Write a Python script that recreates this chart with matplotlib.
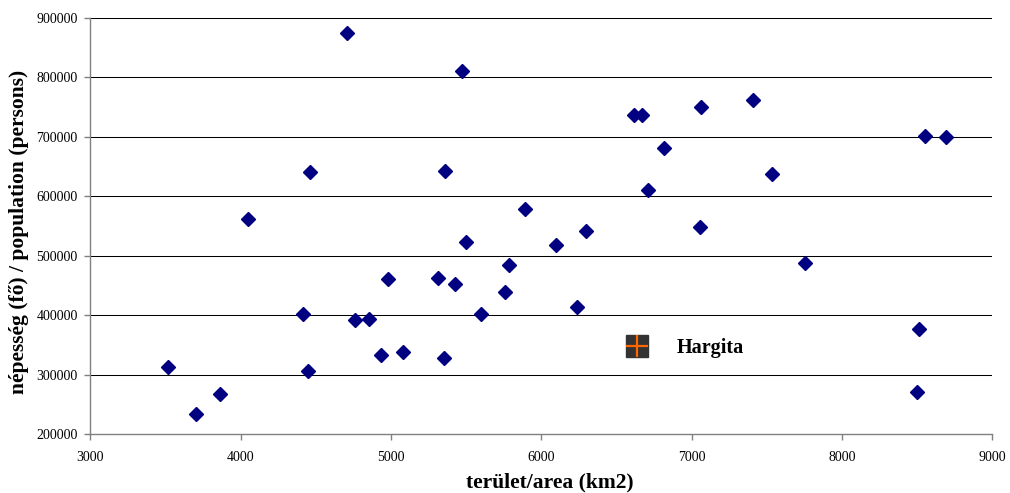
import numpy as np
import matplotlib.pyplot as plt

# area (km2) and population (persons)
area = [3519, 3703, 3862, 4049, 4412, 4450, 4461, 4709, 4760, 4855,
        4931, 4981, 5081, 5316, 5352, 5360, 5427, 5471, 5498, 5601,
        5757, 5786, 5892, 6098, 6236, 6300, 6617, 6670, 6708, 6819,
        7056, 7065, 7411, 7537, 7752, 8497, 8515, 8550, 8690]
population = [313000, 234000, 267000, 562000, 401000, 306500, 641000, 875000, 392000, 393000,
              333000, 461000, 338000, 462000, 328000, 643000, 452000, 811000, 523000, 401000,
              439000, 484000, 578000, 517000, 414000, 542000, 737000, 736000, 610000, 681000,
              548000, 749000, 762000, 638000, 488000, 271000, 377000, 701000, 700000]

hargita_area = 6637
hargita_pop = 348000

x_ticks = [3000, 4000, 5000, 6000, 7000, 8000, 9000]
y_ticks = [200000, 300000, 400000, 500000, 600000, 700000, 800000, 900000]

plt.rcParams['font.family'] = ['Liberation Serif', 'DejaVu Serif']

fig = plt.figure(figsize=(10.1, 4.93), dpi=100)
ax = fig.add_axes([0.0894, 0.1197, 0.8931, 0.8444])

for yv in y_ticks[1:]:
    ax.axhline(yv, color='#000000', lw=0.75, zorder=1)

ax.plot(area, population, linestyle='none', marker='D', markersize=7.2,
        color='#000080', markeredgecolor='#000080', zorder=3)

ax.plot([hargita_area], [hargita_pop], linestyle='none', marker='s', markersize=16,
        color='#333333', zorder=4)
ax.plot([hargita_area], [hargita_pop], linestyle='none', marker='+', markersize=16,
        markeredgewidth=1.6, color='#FF6600', zorder=5)
ax.text(hargita_area + 265, hargita_pop - 3000, 'Hargita', fontsize=14.5, fontweight='bold',
        va='center', ha='left')

ax.set_xlim(3000, 9000)
ax.set_ylim(200000, 900000)
ax.set_xticks(x_ticks)
ax.set_yticks(y_ticks)
ax.set_xticklabels([str(v) for v in x_ticks], fontsize=10)
ax.set_yticklabels([str(v) for v in y_ticks], fontsize=10)
ax.tick_params(axis='both', direction='out', length=4, width=1, color='#808080')
ax.tick_params(axis='x', pad=8)
ax.tick_params(axis='y', pad=5)

for side in ['top', 'right']:
    ax.spines[side].set_visible(False)
for side in ['left', 'bottom']:
    ax.spines[side].set_color('#808080')
    ax.spines[side].set_linewidth(1.0)

ax.set_xlabel('terület/area (km2)', fontsize=15.5, fontweight='bold', labelpad=6)
ax.set_ylabel('népesség (fő) / population (persons)', fontsize=15.5, fontweight='bold', labelpad=5)
ax.xaxis.label.set_x(0.509)
ax.yaxis.label.set_y(0.485)

fig.savefig('out.png', dpi=100)
